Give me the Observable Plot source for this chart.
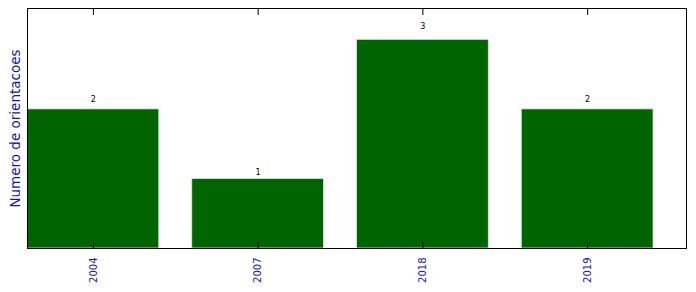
<!DOCTYPE html>
<html>
<head>
<meta charset="utf-8">
<script src="https://cdn.jsdelivr.net/npm/d3@7"></script>
<script src="https://cdn.jsdelivr.net/npm/@observablehq/plot@0.6"></script>
<style>
  html, body { margin: 0; padding: 0; background: #fff; }
</style>
</head>
<body>
<div id="chart"></div>
<script>
const years = ["2004", "2007", "2018", "2019"];
const counts = [2, 1, 3, 2];
const yLabel = "Numero de orientacoes";

const data = years.map((y, i) => ({year: y, count: counts[i]}));
const blue = "#1414b4";

const chart = Plot.plot({
  width: 696,
  height: 292,
  marginLeft: 27,
  marginTop: 8,
  marginRight: 10,
  marginBottom: 44,
  style: {fontFamily: "DejaVu Sans", background: "#fff", overflow: "visible"},
  x: {type: "band", domain: years, paddingInner: 0.2, paddingOuter: 0.1, align: 0, round: false, label: null},
  y: {domain: [0, 3.45], axis: null},
  marks: [
    Plot.barY(data, {x: "year", y: "count", fill: "#006400", stroke: "#e6e6e6", strokeWidth: 0.8}),
    Plot.text(data, {x: "year", y: d => d.count * 1.05, text: d => String(d.count), lineAnchor: "bottom", fontSize: 8, fill: "#000"}),
    Plot.axisX({anchor: "bottom", tickSize: 6, dy: -6, text: null, stroke: "#000", label: null}),
    Plot.axisX({anchor: "top", tickSize: 6, dy: 6, text: null, stroke: "#000", label: null}),
    Plot.axisX({anchor: "bottom", tickSize: 0, tickPadding: 9, tickRotate: -90, fontSize: 10, fill: blue, label: null}),
    Plot.text([yLabel], {frameAnchor: "left", textAnchor: "middle", lineAnchor: "middle", rotate: -90, dx: -12, fontSize: 13.5, fill: blue}),
    Plot.frame({stroke: "#000", strokeWidth: 1})
  ]
});
document.getElementById("chart").appendChild(chart);
</script>
</body>
</html>
